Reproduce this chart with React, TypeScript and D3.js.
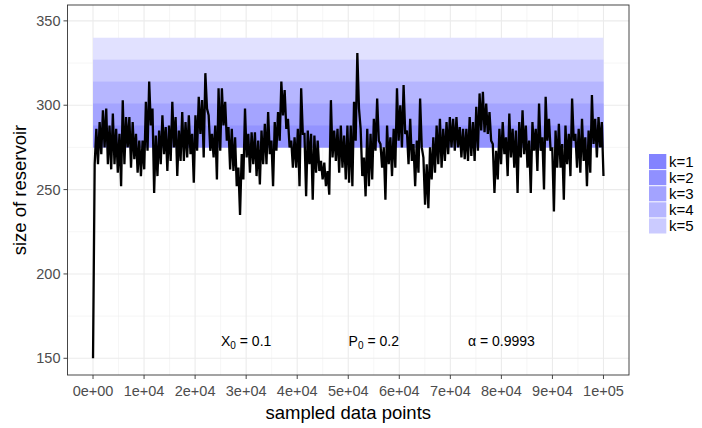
import React from 'react';
import * as d3 from 'd3';

const xTicks = [0, 1e4, 2e4, 3e4, 4e4, 5e4, 6e4, 7e4, 8e4, 9e4, 1e5];
const xTickLabels = ['0e+00', '1e+04', '2e+04', '3e+04', '4e+04', '5e+04', '6e+04', '7e+04', '8e+04', '9e+04', '1e+05'];
const xMinor = [5e3, 15e3, 25e3, 35e3, 45e3, 55e3, 65e3, 75e3, 85e3, 95e3];
const yTicks = [150, 200, 250, 300, 350];
const yMinor = [175, 225, 275, 325];

const bandK = [1, 2, 3, 4, 5];
const bandLower = 275;
const bandUpper = [288, 301, 314, 327, 340];
const bandFill = ['#9393ff', '#a4a4ff', '#b6b6ff', '#cbcbff', '#e1e1ff'];
const legendFill = ['#8383ff', '#9090ff', '#a3a3ff', '#b6b6ff', '#cbcbff'];

const annX = [3e4, 5.5e4, 8e4];
const annY = 160;
const annSym = ['X', 'P', 'α'];
const annSub = ['0', '0', ''];
const annVal = ['0.1', '0.2', '0.9993'];

// reservoir size, alternating local highs / lows
const reservoirSize = [
  150, 265,
  286, 265, 290, 271, 297, 275, 298, 265, 288, 262, 295, 265, 286, 260, 283, 252,
  303, 265, 293, 275, 293, 263, 290, 268, 283, 260, 279, 258, 279, 262, 302, 273,
  314, 288, 298, 248, 282, 258, 285, 265, 294, 271, 287, 261, 288, 267, 302, 275,
  293, 258, 285, 267, 296, 267, 290, 269, 294, 271, 283, 254, 294, 273, 305, 283,
  303, 269, 319, 298, 294, 273, 283, 269, 288, 256, 310, 273,
  310, 288, 302, 279, 287, 262, 286, 261, 281, 252, 263, 235, 271, 256, 298, 269,
  283, 260, 284, 265, 284, 258, 279, 253, 285, 265, 289, 265, 296, 271, 279, 252,
  290, 273, 296, 279, 314, 294, 309, 286, 292, 275, 279, 263, 281, 263, 286, 252,
  310, 283, 283, 246, 285, 265, 283, 244, 282, 260, 279, 261, 267, 256, 266, 252,
  261, 247, 303, 269, 285, 267, 286, 260, 288, 263, 282, 256, 288, 254,
  288, 252, 302, 279, 331, 298, 286, 258, 269, 246, 286, 252, 283, 256, 292, 273,
  304, 279, 277, 263, 275, 244, 288, 265, 281, 258, 286, 263, 310, 279, 300, 275,
  312, 283, 285, 265, 292, 267, 277, 252, 279, 260, 304, 275, 269, 241, 265, 239,
  275, 256, 281, 260, 288, 265, 292, 263, 286, 267, 290, 271, 293, 275, 292, 273,
  293, 275, 287, 269, 286, 268, 286, 267, 293, 270, 290, 267, 299, 273,
  307, 285, 308, 284, 301, 283, 296, 279, 277, 248, 273, 256, 286, 265, 290, 271,
  281, 258, 295, 269, 286, 263, 285, 248, 290, 269, 297, 271, 288, 263, 279, 248,
  290, 273, 286, 261, 301, 273, 281, 250, 305, 279, 292, 273, 275, 237, 285, 263,
  289, 263, 277, 244, 288, 265, 283, 258, 304, 279, 283, 263, 286, 260, 292, 267,
  281, 252, 285, 260, 306, 277, 292, 269, 293, 275, 290, 258,
];

const W = 702;
const H = 428;
const panel = { left: 67.5, right: 629, top: 5, bottom: 375 };
const FONT = "'Liberation Sans', Arial, Helvetica, sans-serif";

export default function App() {
  const x = d3.scaleLinear().domain([-5000, 105000]).range([panel.left, panel.right]);
  const y = d3.scaleLinear().domain([140.1, 359.4]).range([panel.bottom, panel.top]);
  const n = reservoirSize.length;
  const step = 1e5 / (n - 1);
  const line = d3
    .line<number>()
    .x((_, i) => x(i * step))
    .y((d) => y(d));

  const order = [...bandK].reverse();
  const legendTop = 154;
  const keyH = 16.1;

  return (
    <svg width={W} height={H} style={{ position: 'absolute', left: 0, top: 0, background: '#fff' }} fontFamily={FONT}>
      <rect x={0} y={0} width={W} height={H} fill="#fff" />
      {/* grid */}
      {xMinor.map((v) => (
        <line key={'xm' + v} x1={x(v)} x2={x(v)} y1={panel.top} y2={panel.bottom} stroke="#f0f0f0" strokeWidth={0.6} />
      ))}
      {yMinor.map((v) => (
        <line key={'ym' + v} x1={panel.left} x2={panel.right} y1={y(v)} y2={y(v)} stroke="#f0f0f0" strokeWidth={0.6} />
      ))}
      {xTicks.map((v) => (
        <line key={'xg' + v} x1={x(v)} x2={x(v)} y1={panel.top} y2={panel.bottom} stroke="#ebebeb" strokeWidth={1.1} />
      ))}
      {yTicks.map((v) => (
        <line key={'yg' + v} x1={panel.left} x2={panel.right} y1={y(v)} y2={y(v)} stroke="#ebebeb" strokeWidth={1.1} />
      ))}
      {/* bands */}
      {order.map((k) => (
        <rect
          key={'b' + k}
          x={x(0)}
          width={x(1e5) - x(0)}
          y={y(bandUpper[k - 1])}
          height={y(bandLower) - y(bandUpper[k - 1])}
          fill={bandFill[k - 1]}
        />
      ))}
      {/* series */}
      <path d={line(reservoirSize) || ''} fill="none" stroke="#000" strokeWidth={2.3} strokeLinejoin="miter" strokeMiterlimit={3} />
      {/* annotations */}
      {annX.map((v, i) => (
        <text key={'a' + i} x={x(v)} y={y(annY) + 5} textAnchor="middle" fontSize={14} fill="#000">
          <tspan>{annSym[i]}</tspan>
          {annSub[i] ? (
            <tspan fontSize={10} dy={3}>
              {annSub[i]}
            </tspan>
          ) : null}
          <tspan dy={annSub[i] ? -3 : 0}>{' = ' + annVal[i]}</tspan>
        </text>
      ))}
      {/* panel border */}
      <rect
        x={panel.left}
        y={panel.top}
        width={panel.right - panel.left}
        height={panel.bottom - panel.top}
        fill="none"
        stroke="#333"
        strokeWidth={0.9}
      />
      {/* axes ticks */}
      {yTicks.map((v) => (
        <g key={'yt' + v}>
          <line x1={panel.left - 4} x2={panel.left} y1={y(v)} y2={y(v)} stroke="#333" strokeWidth={0.9} />
          <text x={panel.left - 7} y={y(v) + 5} textAnchor="end" fontSize={14.5} fill="#4d4d4d">
            {v}
          </text>
        </g>
      ))}
      {xTicks.map((v, i) => (
        <g key={'xt' + v}>
          <line x1={x(v)} x2={x(v)} y1={panel.bottom} y2={panel.bottom + 4} stroke="#333" strokeWidth={0.9} />
          <text x={x(v)} y={395.5} textAnchor="middle" fontSize={14.5} fill="#4d4d4d">
            {xTickLabels[i]}
          </text>
        </g>
      ))}
      {/* axis titles */}
      <text x={(panel.left + panel.right) / 2} y={419} textAnchor="middle" fontSize={18.5} fill="#000">
        sampled data points
      </text>
      <text
        transform={`translate(26,${(panel.top + panel.bottom) / 2}) rotate(-90)`}
        textAnchor="middle"
        fontSize={18.5}
        fill="#000"
      >
        size of reservoir
      </text>
      {/* legend */}
      {bandK.map((k, i) => (
        <g key={'lg' + k}>
          <rect x={649} y={legendTop + i * keyH} width={17.3} height={keyH - 1} fill={legendFill[i]} />
          <text x={669} y={legendTop + i * keyH + keyH / 2 + 5} fontSize={15} fill="#000">
            {'k=' + k}
          </text>
        </g>
      ))}
    </svg>
  );
}
